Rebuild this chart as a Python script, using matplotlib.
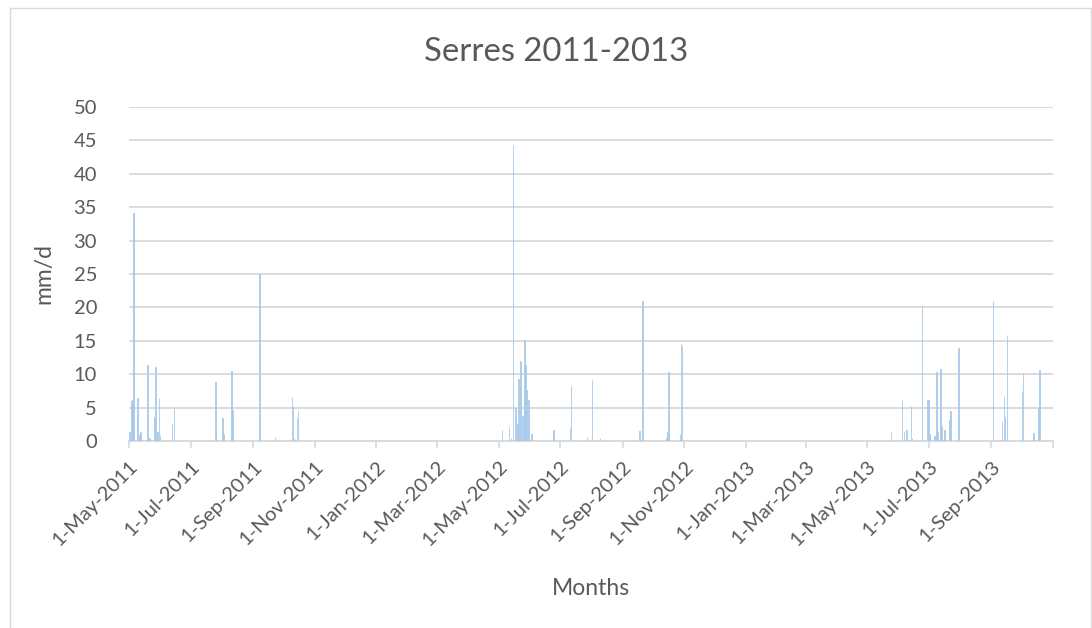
import matplotlib
matplotlib.use('Agg')
import matplotlib.pyplot as plt
from matplotlib.patches import Rectangle
import pandas as pd

plt.rcParams['font.family'] = ['Lato', 'DejaVu Sans']

# daily rainfall at Serres (mm/d), only the wet days are listed
rain_dates = [
    '2011-05-01', '2011-05-03', '2011-05-04', '2011-05-05', '2011-05-09',
    '2011-05-11', '2011-05-12', '2011-05-19', '2011-05-21', '2011-05-26',
    '2011-05-27', '2011-05-29', '2011-05-30', '2011-05-31', '2011-06-12',
    '2011-06-14', '2011-07-25', '2011-08-01', '2011-08-02', '2011-08-10',
    '2011-08-11', '2011-09-07', '2011-09-22', '2011-10-09', '2011-10-10',
    '2011-10-11', '2011-10-14', '2011-10-15',
    '2012-05-04', '2012-05-11', '2012-05-13', '2012-05-15', '2012-05-17',
    '2012-05-19', '2012-05-20', '2012-05-22', '2012-05-24', '2012-05-26',
    '2012-05-27', '2012-05-28', '2012-05-30', '2012-06-02', '2012-06-24',
    '2012-07-10', '2012-07-11', '2012-07-27', '2012-08-01', '2012-08-09',
    '2012-09-17', '2012-09-20', '2012-10-14', '2012-10-15', '2012-10-16',
    '2012-10-27', '2012-10-28', '2012-10-29',
    '2013-05-24', '2013-05-31', '2013-06-04', '2013-06-06', '2013-06-08',
    '2013-06-09', '2013-06-10', '2013-06-13', '2013-06-14', '2013-06-24',
    '2013-06-29', '2013-06-30', '2013-07-01', '2013-07-06', '2013-07-08',
    '2013-07-09', '2013-07-12', '2013-07-13', '2013-07-16', '2013-07-21',
    '2013-07-22', '2013-07-30', '2013-09-02', '2013-09-11', '2013-09-13',
    '2013-09-14', '2013-09-16', '2013-10-01', '2013-10-02', '2013-10-12',
    '2013-10-17', '2013-10-18',
]
rain_mm = [
    1.3, 6.0, 6.2, 34.2, 6.4,
    0.85, 1.4, 11.35, 0.45, 3.6,
    11.1, 1.3, 6.4, 0.9, 2.5,
    4.9, 8.8, 3.4, 1.0, 10.5,
    4.6, 25.0, 0.65, 6.65, 5.3,
    0.45, 3.4, 4.55,
    1.6, 2.1, 0.5, 44.3, 5.0,
    2.6, 9.25, 11.9, 3.7, 15.1,
    11.35, 7.6, 6.2, 1.0, 1.6,
    1.95, 8.2, 0.55, 9.1, 0.45,
    1.45, 20.95, 0.4, 1.35, 10.3,
    1.1, 14.7, 14.25,
    1.3, 0.3, 6.1, 1.45, 1.85,
    1.6, 0.3, 5.3, 0.5, 20.25,
    6.1, 6.1, 1.1, 0.8, 10.3,
    1.3, 10.8, 2.3, 1.7, 3.1,
    4.45, 13.85, 21.0, 2.95, 6.7,
    3.7, 15.85, 7.45, 10.2, 1.2,
    4.95, 10.7,
]

tick_labels = ['1-May-2011', '1-Jul-2011', '1-Sep-2011', '1-Nov-2011',
               '1-Jan-2012', '1-Mar-2012', '1-May-2012', '1-Jul-2012',
               '1-Sep-2012', '1-Nov-2012', '1-Jan-2013', '1-Mar-2013',
               '1-May-2013', '1-Jul-2013', '1-Sep-2013', '']
tick_dates = ['2011-05-01', '2011-07-01', '2011-09-01', '2011-11-01',
              '2012-01-01', '2012-03-01', '2012-05-01', '2012-07-01',
              '2012-09-01', '2012-11-01', '2013-01-01', '2013-03-01',
              '2013-05-01', '2013-07-01', '2013-09-01', '2013-11-01']

grey = '#595959'
line = '#D9D9D9'
bar_blue = '#A8CAEA'

fig = plt.figure(figsize=(10.92, 6.28), dpi=100)
ax = fig.add_axes([0.1181, 0.2978, 0.8462, 0.5318])

# each day sits in the middle of its one-day slot
x = pd.to_datetime(rain_dates) + pd.Timedelta(hours=12)
ax.bar(x, rain_mm, width=0.5, color=bar_blue, edgecolor=bar_blue,
       linewidth=0.6, zorder=3)

ticks = pd.to_datetime(tick_dates)
ax.set_xlim(ticks[0], ticks[-1])
ax.set_xticks(ticks)
ax.set_xticklabels(tick_labels, rotation=45, ha='right', rotation_mode='anchor',
                   fontsize=14.5, color=grey)
ax.tick_params(axis='x', length=5, width=1.2, color=line, pad=7)

ax.set_ylim(0, 50)
ax.set_yticks(range(0, 51, 5))
ax.tick_params(axis='y', length=0, labelsize=14.5, labelcolor=grey, pad=23)
ax.grid(axis='y', color=line, linewidth=1.3, zorder=0)

for s in ['top', 'right', 'left']:
    ax.spines[s].set_visible(False)
ax.spines['bottom'].set_color(line)
ax.spines['bottom'].set_linewidth(1.3)

fig.text(0.509, 0.917, 'Serres 2011-2013', fontsize=23.7, color=grey,
         ha='center', va='center')
ax.set_ylabel('mm/d', fontsize=16.5, color=grey, labelpad=14)
ax.set_xlabel('Months', fontsize=16.5, color=grey)
ax.xaxis.set_label_coords(0.5, -0.41)

# chart border
fig.patches.append(Rectangle((0.009, -0.01), 0.99, 0.997, transform=fig.transFigure,
                             fill=False, edgecolor=line, linewidth=1))

fig.savefig('out.png', dpi=100)
